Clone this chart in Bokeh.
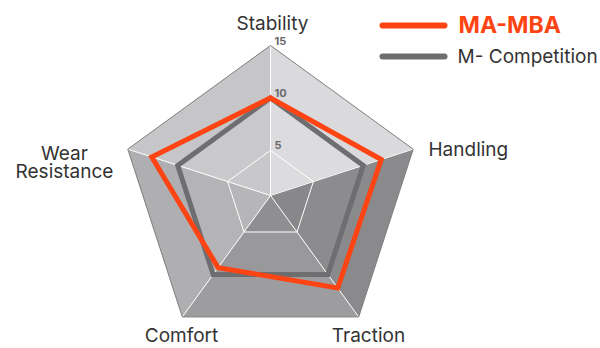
import numpy as np
from bokeh.plotting import figure
from bokeh.models import Range1d
from bokeh.core.properties import value
from bokeh.embed import file_html
from bokeh.resources import INLINE

# ---- data ----
categories = ["Stability", "Handling", "Traction", "Comfort", "Wear Resistance"]
series_names = ["MA-MBA", "M- Competition"]
ma_mba = [10.0, 11.8, 11.6, 9.2, 12.6]
competition = [10.0, 10.0, 10.0, 10.0, 10.0]
tick_values = [5, 10, 15]
tick_labels = ["5", "10", "15"]

# ---- styling / geometry ----
ORANGE = "#fe4413"
GREY = "#6e6e70"
FONT = "Inter"
V0, VMAX, RPIX = 0.7, 15.0, 150.0
CX, CY = 270, 195   # radar centre in picture pixels
W, H = 600, 348

def rad(v):
    return (v - V0) / (VMAX - V0) * RPIX

n = len(categories)
angles = [np.pi / 2 - 2 * np.pi * i / n for i in range(n)]

def pt(i, v):
    r = max(rad(v), 0.0)
    return r * np.cos(angles[i]), r * np.sin(angles[i])

p = figure(width=W, height=H, output_backend="svg", toolbar_location=None,
           x_range=Range1d(-CX, W - CX), y_range=Range1d(CY - H, CY),
           min_border=0, outline_line_color=None)
p.axis.visible = False
p.grid.visible = False
p.background_fill_color = "white"

# shaded background faces: [sector][band]
shades = [
    ["#dcdcde", "#dcdcde", "#dadadc"],  # Stability-Handling
    ["#88888a", "#8c8c8e", "#8a8a8c"],  # Handling-Traction
    ["#8f8f91", "#99999b", "#9d9d9f"],  # Traction-Comfort
    ["#b6b6b8", "#b4b4b6", "#afafb1"],  # Comfort-Wear
    ["#c8c8ca", "#c9c9cb", "#c6c6c8"],  # Wear-Stability
]
bands = [V0] + tick_values
xs, ys, cols = [], [], []
for s in range(n):
    j = (s + 1) % n
    for b in range(len(tick_values)):
        a0, a1 = bands[b], bands[b + 1]
        pts = [pt(s, a0), pt(s, a1), pt(j, a1), pt(j, a0)]
        xs.append([q[0] for q in pts])
        ys.append([q[1] for q in pts])
        cols.append(shades[s][b])
p.patches(xs, ys, fill_color=cols, line_color=cols, line_width=0.5)

# white axes
for i in range(n):
    x1, y1 = pt(i, VMAX)
    p.line([0, x1], [0, y1], line_color="white", line_width=1)
# white inner ring
ring = [pt(i, tick_values[0]) for i in range(n)] + [pt(0, tick_values[0])]
p.line([q[0] for q in ring], [q[1] for q in ring], line_color="white", line_width=1)
# outer border
outer = [pt(i, VMAX) for i in range(n)] + [pt(0, VMAX)]
p.line([q[0] for q in outer], [q[1] for q in outer], line_color="#808082", line_width=1)

# series
for vals, col in [(competition, GREY), (ma_mba, ORANGE)]:
    pts = [pt(i, v) for i, v in enumerate(vals)]
    p.patch([q[0] for q in pts], [q[1] for q in pts], fill_color=None,
            line_color=col, line_width=5, line_join="miter")

# tick labels
for tv, tl in zip(tick_values, tick_labels):
    p.text([4], [rad(tv) + 5], text=[tl], text_font=value(FONT), text_font_size="11px",
           text_font_style="bold", text_color="#6a6a6c", text_baseline="alphabetic",
           text_align="left")

# category labels (picture pixel positions)
lab_x = [272, 428, 368, 181, 64]
lab_y = [23, 149, 335, 335, 153]
lab_align = ["center", "left", "center", "center", "center"]
for k, cat in enumerate(categories):
    words = cat.split(" ")
    for li, w in enumerate(words):
        p.text([lab_x[k] - CX], [CY - (lab_y[k] + li * 17.5)], text=[w],
               text_font=value(FONT), text_font_size="19px", text_color="#333333",
               text_align=lab_align[k], text_baseline="alphabetic")

# legend
leg_y = [25, 56]
leg_cols = [ORANGE, GREY]
for k, name in enumerate(series_names):
    yy = CY - leg_y[k]
    p.line([382 - CX, 444 - CX], [yy, yy], line_color=leg_cols[k], line_width=6,
           line_cap="round")
    if k == 0:
        p.text([458 - CX], [CY - 24], text=[name], text_font=value(FONT),
               text_font_size="23px", text_font_style="bold", text_color=ORANGE,
               text_baseline="alphabetic")
    else:
        p.text([457 - CX], [CY - 56], text=[name], text_font=value(FONT),
               text_font_size="19px", text_color="#333333", text_baseline="alphabetic")

open("out.html", "w").write(file_html(p, INLINE))
